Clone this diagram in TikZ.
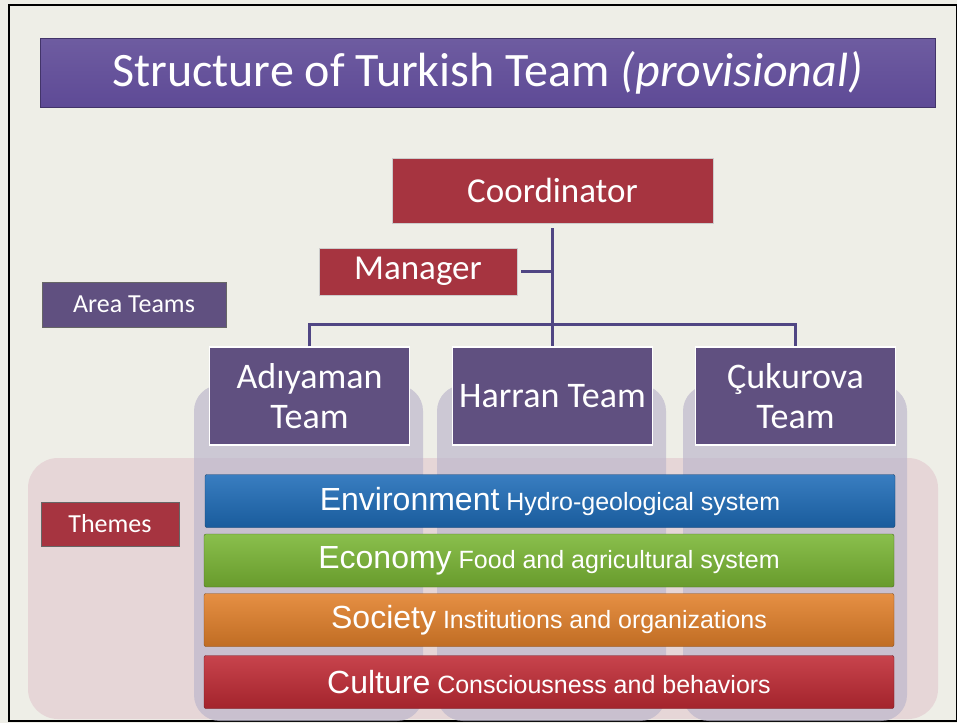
\documentclass[tikz,border=0pt]{standalone}
\usepackage{fontspec}
\setmainfont{Carlito}
\newfontfamily\barfont{Liberation Sans}
\usetikzlibrary{positioning,calc,backgrounds}
\definecolor{slidebg}{RGB}{238,238,231}
\definecolor{titlepurple}{RGB}{94,74,150}
\definecolor{teampurple}{RGB}{96,80,128}
\definecolor{leadred}{RGB}{166,52,64}
\definecolor{linepurple}{RGB}{80,70,132}
\definecolor{envblue}{RGB}{30,108,184}
\definecolor{ecogreen}{RGB}{122,182,52}
\definecolor{socorange}{RGB}{226,128,42}
\definecolor{culred}{RGB}{192,42,52}
\definecolor{colgray}{RGB}{190,184,204}
\definecolor{themepink}{RGB}{228,206,210}
\tikzset{
  blk/.style={rectangle,inner sep=0pt,align=center,text=white},
  ttlblk/.style={blk,top color=titlepurple!90!white,bottom color=titlepurple,draw=titlepurple!70!black,font=\fontsize{48}{52}\selectfont},
  leadblk/.style={blk,fill=leadred,draw=gray!40,font=\fontsize{35}{40}\selectfont},
  teamblk/.style={blk,fill=teampurple,draw=white,line width=1.5pt,minimum width=200pt,minimum height=98pt,font=\fontsize{36}{40}\selectfont},
  tagblk/.style={blk,draw=black!60,font=\fontsize{26}{30}\selectfont},
  barblk/.style={blk,rounded corners=2pt,minimum width=690pt,minimum height=53pt,font=\barfont\fontsize{25}{30}\selectfont},
  colbg/.style={fill=colgray,opacity=0.7,rounded corners=26pt},
  conn/.style={draw=linepurple,line width=3pt}
}
\newcommand{\bartext}[2]{{\fontsize{32}{36}\selectfont #1} #2}

\begin{document}
\begin{tikzpicture}[x=1pt,y=-1pt]
  \useasboundingbox (0,0) rectangle (957,723);
  \fill[slidebg] (0,0) rectangle (957,723);
  \draw[line width=2pt] (9,5) rectangle (957,721);

  % Title
  \node[ttlblk, minimum width=895pt, minimum height=69pt] (title) at (487.5,72.5)
    {Structure of Turkish Team \textit{(provisional)}};

  % Theme backdrop and team columns
  \fill[themepink, opacity=0.75, rounded corners=30pt] (28,458) rectangle (938,719);
  \fill[colbg] (194,385) rectangle (423,721);
  \fill[colbg] (437,385) rectangle (666,721);
  \fill[colbg] (683,385) rectangle (907,721);

  % Lead roles
  \node[leadblk, minimum width=321pt, minimum height=65pt] (coord) at (552.5,190.5) {Coordinator};
  \node[leadblk, minimum width=198pt, minimum height=47pt] (mgr) at (418,271.5) {Manager};

  % Side tags
  \node[tagblk, fill=teampurple, minimum width=184pt, minimum height=45pt] (area) at (134,304.5) {Area Teams};
  \node[tagblk, fill=leadred, minimum width=138pt, minimum height=44pt] (themes) at (110,524) {Themes};

  % Area teams
  \node[teamblk] (adi) at (309.5,396) {Ad\i yaman\\Team};
  \node[teamblk] (har) at (552.5,396) {Harran Team};
  \node[teamblk] (cuk) at (795.5,396) {Çukurova\\Team};

  % Connectors
  \coordinate (hub) at (coord.south |- mgr.east);
  \coordinate (bus) at (coord.south |- 0,324);
  \draw[conn, shorten <=5pt] (coord.south) -- (bus);
  \draw[conn, shorten <=4pt] (mgr.east) -- (hub);
  \draw[conn] (adi.north) |- (bus) -| (cuk.north);
  \draw[conn] (bus) -- (har.north);

  % Theme bars
  \node[barblk, top color=envblue!88!white, bottom color=envblue!85!black, draw=envblue!60!black] (env) at (550,501)
    {\bartext{Environment}{Hydro-geological system}};
  \node[barblk, top color=ecogreen!88!white, bottom color=ecogreen!85!black, draw=ecogreen!60!black] (eco) at (549,560.5)
    {\bartext{Economy}{Food and agricultural system}};
  \node[barblk, top color=socorange!88!white, bottom color=socorange!85!black, draw=socorange!60!black] (soc) at (549,620)
    {\bartext{Society}{Institutions and organizations}};
  \node[barblk, top color=culred!88!white, bottom color=culred!85!black, draw=culred!60!black] (cul) at (549,682)
    {\bartext{Culture}{Consciousness and behaviors}};
\end{tikzpicture}
\end{document}
